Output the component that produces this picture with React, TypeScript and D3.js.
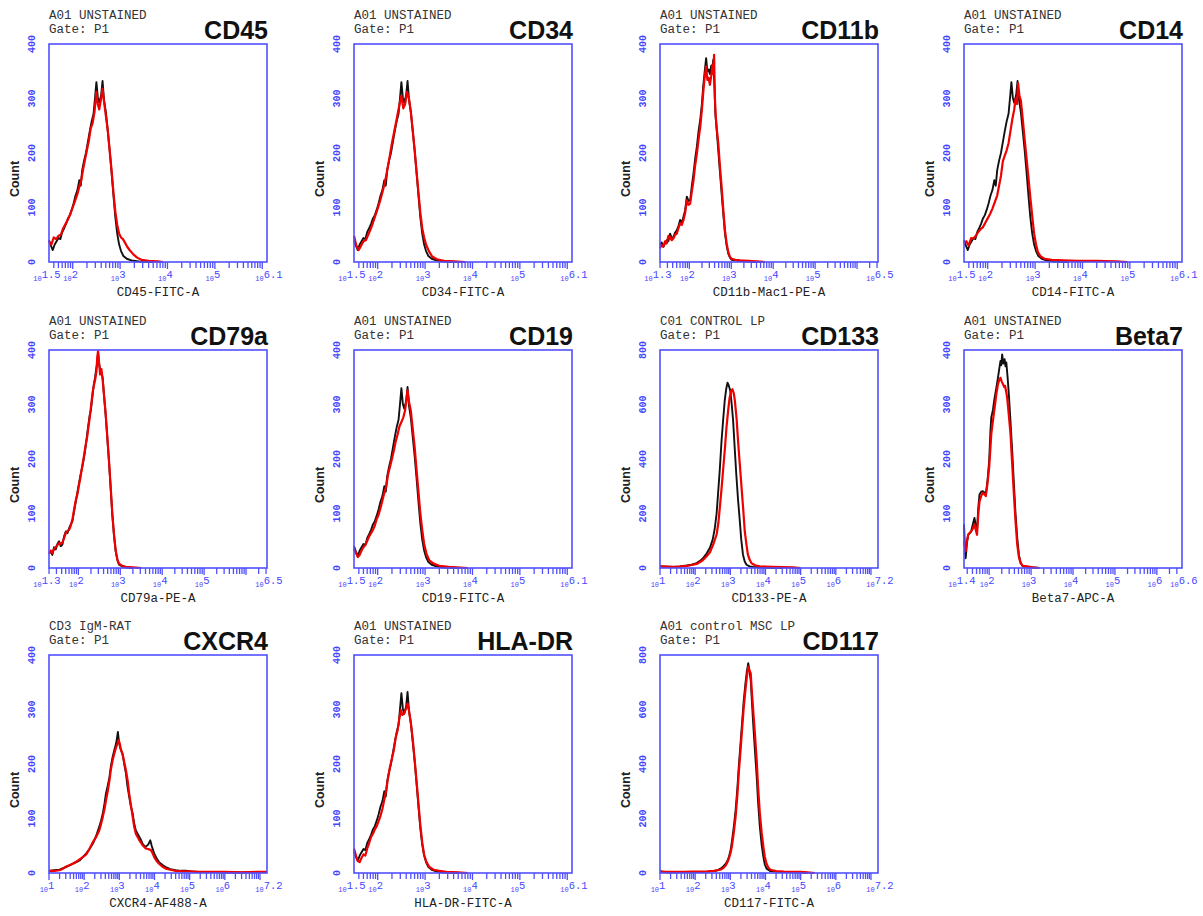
import React from 'react';
import * as d3 from 'd3';

type Pt = [number, number]; // [log10 fluorescence, count]

// ---------- data (log10 intensity, count) ----------
const FITC_CONTROL: Pt[] = [
  [1.50, 40], [1.54, 30], [1.58, 22], [1.62, 32], [1.66, 38], [1.70, 44], [1.74, 42], [1.78, 55], [1.82, 62],
  [1.86, 70], [1.90, 80], [1.94, 86], [1.98, 96], [2.02, 108], [2.06, 122], [2.10, 132], [2.14, 150], [2.17, 140],
  [2.20, 168], [2.24, 186], [2.28, 200], [2.32, 220], [2.36, 240], [2.40, 258], [2.44, 272], [2.47, 300], [2.50, 330],
  [2.53, 302], [2.56, 292], [2.60, 306], [2.63, 332], [2.66, 298], [2.70, 275], [2.74, 240], [2.78, 205], [2.82, 165],
  [2.86, 122], [2.90, 82], [2.94, 52], [2.98, 32], [3.02, 20], [3.07, 11], [3.14, 6], [3.24, 3], [3.40, 1], [3.70, 0],
];

const CD45_RED: Pt[] = [
  [1.50, 38], [1.55, 32], [1.60, 45], [1.65, 42], [1.70, 48], [1.75, 50], [1.80, 62], [1.85, 70], [1.90, 78],
  [1.95, 88], [2.00, 100], [2.05, 112], [2.10, 125], [2.15, 142], [2.18, 150], [2.22, 170], [2.26, 188], [2.30, 205],
  [2.34, 222], [2.38, 245], [2.42, 255], [2.46, 275], [2.50, 312], [2.53, 290], [2.56, 280], [2.60, 300], [2.63, 318],
  [2.66, 295], [2.70, 268], [2.74, 242], [2.78, 205], [2.82, 168], [2.86, 128], [2.90, 92], [2.94, 68], [2.98, 52],
  [3.02, 45], [3.06, 42], [3.10, 36], [3.15, 28], [3.20, 22], [3.28, 14], [3.36, 8], [3.45, 4], [3.60, 2], [3.80, 1], [3.90, 0],
];

const CD34_RED: Pt[] = [
  [1.50, 48], [1.55, 30], [1.60, 22], [1.65, 30], [1.70, 38], [1.75, 40], [1.80, 50], [1.85, 60], [1.90, 72],
  [1.95, 85], [2.00, 98], [2.05, 112], [2.10, 128], [2.15, 145], [2.20, 168], [2.25, 192], [2.30, 218], [2.35, 240],
  [2.40, 262], [2.45, 285], [2.50, 305], [2.54, 282], [2.58, 290], [2.62, 312], [2.66, 300], [2.70, 275], [2.74, 240],
  [2.78, 205], [2.82, 165], [2.86, 128], [2.90, 90], [2.94, 62], [2.98, 45], [3.02, 32], [3.08, 20], [3.15, 10],
  [3.25, 5], [3.40, 2], [3.60, 1], [3.85, 0],
];

const CD14_RED: Pt[] = [
  [1.50, 34], [1.55, 38], [1.60, 30], [1.65, 44], [1.70, 43], [1.75, 48], [1.80, 55], [1.85, 60], [1.90, 64],
  [1.95, 72], [2.00, 80], [2.05, 88], [2.10, 98], [2.15, 110], [2.20, 122], [2.24, 140], [2.28, 158], [2.32, 185],
  [2.36, 195], [2.40, 205], [2.44, 218], [2.48, 240], [2.52, 262], [2.56, 280], [2.59, 300], [2.62, 290], [2.64, 328],
  [2.67, 305], [2.70, 296], [2.74, 262], [2.78, 225], [2.82, 190], [2.86, 155], [2.90, 118], [2.94, 84], [2.98, 52],
  [3.02, 32], [3.06, 18], [3.12, 10], [3.20, 6], [3.35, 4], [3.60, 3], [3.90, 2], [4.30, 2], [4.70, 1], [4.95, 0],
];

const CD19_RED: Pt[] = [
  [1.50, 35], [1.54, 28], [1.58, 20], [1.62, 24], [1.66, 32], [1.70, 38], [1.74, 42], [1.78, 50], [1.82, 58],
  [1.86, 64], [1.90, 70], [1.94, 78], [1.98, 90], [2.02, 98], [2.06, 110], [2.10, 124], [2.14, 138], [2.18, 150],
  [2.22, 172], [2.26, 186], [2.30, 200], [2.34, 215], [2.38, 232], [2.42, 245], [2.46, 260], [2.50, 268], [2.54, 276],
  [2.58, 290], [2.61, 312], [2.63, 326], [2.66, 305], [2.70, 288], [2.74, 255], [2.78, 222], [2.82, 180], [2.86, 140],
  [2.90, 100], [2.94, 70], [2.98, 44], [3.03, 26], [3.09, 14], [3.18, 8], [3.30, 4], [3.50, 2], [3.90, 0],
];

const HLADR_RED: Pt[] = [
  [1.50, 45], [1.54, 32], [1.58, 22], [1.62, 20], [1.66, 28], [1.70, 34], [1.74, 32], [1.78, 45], [1.82, 55],
  [1.86, 66], [1.90, 72], [1.94, 80], [1.98, 86], [2.02, 95], [2.06, 105], [2.10, 118], [2.14, 135], [2.18, 152],
  [2.22, 175], [2.26, 195], [2.30, 210], [2.34, 225], [2.38, 248], [2.42, 262], [2.46, 285], [2.49, 299], [2.52, 290],
  [2.56, 293], [2.60, 302], [2.63, 311], [2.66, 298], [2.70, 275], [2.74, 245], [2.78, 208], [2.82, 168], [2.86, 128],
  [2.90, 88], [2.94, 56], [2.98, 33], [3.03, 20], [3.09, 11], [3.18, 6], [3.30, 4], [3.45, 2], [3.70, 1], [3.90, 0],
];

const CD11B_BLACK: Pt[] = [
  [1.30, 31], [1.34, 36], [1.38, 28], [1.42, 34], [1.46, 40], [1.50, 38], [1.54, 52], [1.58, 44], [1.62, 46],
  [1.66, 54], [1.70, 58], [1.74, 66], [1.78, 77], [1.82, 72], [1.86, 83], [1.90, 95], [1.94, 120], [1.98, 112],
  [2.02, 113], [2.06, 140], [2.10, 163], [2.14, 190], [2.18, 212], [2.22, 240], [2.26, 261], [2.30, 290], [2.33, 322],
  [2.36, 345], [2.40, 374], [2.43, 350], [2.46, 353], [2.49, 345], [2.52, 360], [2.55, 352], [2.57, 371], [2.60, 320],
  [2.62, 273], [2.66, 235], [2.69, 205], [2.73, 165], [2.77, 126], [2.81, 88], [2.85, 52], [2.89, 30], [2.93, 15],
  [2.97, 8], [3.01, 4], [3.10, 3], [3.21, 2], [3.40, 1], [3.60, 0],
];

const CD11B_RED: Pt[] = [
  [1.30, 25], [1.34, 32], [1.38, 28], [1.42, 38], [1.46, 34], [1.50, 48], [1.54, 46], [1.58, 40], [1.62, 43],
  [1.66, 50], [1.70, 52], [1.74, 62], [1.78, 71], [1.82, 68], [1.86, 77], [1.90, 90], [1.94, 113], [1.98, 105],
  [2.02, 107], [2.06, 130], [2.10, 150], [2.14, 178], [2.18, 199], [2.22, 225], [2.26, 248], [2.30, 280], [2.33, 310],
  [2.36, 335], [2.40, 359], [2.43, 334], [2.46, 338], [2.49, 325], [2.52, 340], [2.55, 362], [2.57, 345], [2.59, 380],
  [2.61, 300], [2.63, 267], [2.66, 240], [2.69, 218], [2.73, 175], [2.77, 138], [2.81, 96], [2.85, 58], [2.89, 34],
  [2.93, 18], [2.97, 9], [3.01, 6], [3.10, 4], [3.21, 3], [3.40, 2], [3.60, 1], [3.80, 0],
];

const CD79A_BLACK: Pt[] = [
  [1.30, 28], [1.34, 30], [1.38, 24], [1.42, 38], [1.46, 34], [1.50, 44], [1.54, 49], [1.58, 40], [1.62, 43],
  [1.66, 58], [1.70, 67], [1.74, 64], [1.78, 73], [1.82, 80], [1.86, 86], [1.90, 105], [1.94, 122], [1.98, 140],
  [2.01, 153], [2.05, 170], [2.09, 184], [2.13, 200], [2.17, 220], [2.21, 245], [2.24, 263], [2.27, 280], [2.30, 290],
  [2.34, 318], [2.37, 337], [2.40, 350], [2.43, 367], [2.45, 375], [2.47, 395], [2.50, 372], [2.53, 361], [2.56, 355],
  [2.58, 349], [2.61, 320], [2.65, 282], [2.69, 240], [2.73, 196], [2.77, 148], [2.81, 98], [2.85, 60], [2.89, 31],
  [2.93, 15], [2.97, 6], [3.05, 3], [3.13, 1], [3.30, 0],
];

const CD79A_RED: Pt[] = [
  [1.30, 26], [1.34, 32], [1.38, 27], [1.42, 35], [1.46, 38], [1.50, 42], [1.54, 46], [1.58, 44], [1.62, 47],
  [1.66, 55], [1.70, 64], [1.74, 68], [1.78, 70], [1.82, 78], [1.86, 90], [1.90, 108], [1.94, 125], [1.98, 136],
  [2.01, 150], [2.05, 166], [2.09, 186], [2.13, 204], [2.17, 224], [2.21, 240], [2.24, 258], [2.27, 275], [2.30, 295],
  [2.34, 322], [2.37, 335], [2.40, 345], [2.43, 360], [2.45, 385], [2.47, 398], [2.49, 380], [2.52, 355], [2.55, 365],
  [2.58, 345], [2.61, 318], [2.65, 285], [2.69, 242], [2.73, 198], [2.77, 150], [2.81, 100], [2.85, 62], [2.89, 33],
  [2.93, 16], [2.97, 8], [3.05, 4], [3.13, 2], [3.30, 1], [3.50, 0],
];

const CD133_BLACK: Pt[] = [
  [1.00, 6], [1.20, 5], [1.38, 4], [1.56, 6], [1.76, 9], [1.90, 12], [2.04, 18], [2.14, 26], [2.23, 37], [2.32, 52],
  [2.42, 74], [2.50, 105], [2.56, 147], [2.61, 200], [2.65, 270], [2.70, 360], [2.75, 466], [2.80, 550], [2.84, 613],
  [2.88, 655], [2.92, 680], [2.96, 668], [3.00, 650], [3.04, 600], [3.08, 540], [3.12, 450], [3.17, 343], [3.22, 250],
  [3.27, 172], [3.31, 105], [3.36, 49], [3.41, 24], [3.46, 12], [3.55, 6], [3.65, 4], [3.85, 2], [4.02, 1], [4.50, 0],
];

const CD133_RED: Pt[] = [
  [1.00, 6], [1.20, 5], [1.38, 4], [1.56, 5], [1.76, 8], [1.90, 11], [2.04, 15], [2.14, 22], [2.23, 30], [2.32, 42],
  [2.42, 58], [2.52, 88], [2.61, 123], [2.66, 165], [2.70, 220], [2.75, 290], [2.80, 368], [2.85, 445], [2.89, 515],
  [2.94, 580], [2.98, 625], [3.02, 648], [3.06, 656], [3.10, 640], [3.13, 613], [3.18, 545], [3.22, 466], [3.27, 380],
  [3.32, 294], [3.37, 210], [3.41, 135], [3.46, 85], [3.50, 49], [3.55, 30], [3.60, 18], [3.70, 10], [3.84, 6],
  [4.00, 5], [4.21, 4], [4.50, 3], [4.78, 2], [5.00, 0],
];

const BETA7_BLACK: Pt[] = [
  [1.40, 80], [1.42, 40], [1.44, 18], [1.47, 45], [1.50, 61], [1.54, 64], [1.57, 67], [1.61, 80], [1.65, 92],
  [1.68, 78], [1.71, 67], [1.74, 110], [1.77, 135], [1.81, 140], [1.85, 141], [1.89, 138], [1.92, 135], [1.96, 160],
  [2.00, 196], [2.03, 250], [2.05, 276], [2.09, 290], [2.13, 312], [2.17, 330], [2.21, 349], [2.24, 365], [2.27, 380],
  [2.29, 372], [2.31, 392], [2.34, 375], [2.37, 383], [2.39, 370], [2.41, 377], [2.44, 350], [2.47, 318], [2.51, 268],
  [2.55, 214], [2.59, 155], [2.63, 98], [2.67, 55], [2.71, 24], [2.75, 10], [2.80, 3], [2.90, 2], [3.04, 1], [3.20, 0],
];

const BETA7_RED: Pt[] = [
  [1.40, 49], [1.42, 38], [1.44, 31], [1.47, 50], [1.50, 61], [1.54, 65], [1.57, 67], [1.61, 72], [1.65, 80],
  [1.68, 70], [1.71, 61], [1.74, 98], [1.77, 122], [1.81, 132], [1.85, 138], [1.89, 135], [1.92, 132], [1.96, 155],
  [2.00, 184], [2.03, 220], [2.05, 245], [2.09, 270], [2.13, 294], [2.17, 318], [2.21, 337], [2.24, 345], [2.27, 349],
  [2.30, 342], [2.33, 337], [2.36, 332], [2.38, 334], [2.41, 322], [2.43, 312], [2.47, 280], [2.51, 245], [2.55, 190],
  [2.59, 135], [2.63, 85], [2.67, 43], [2.71, 20], [2.75, 9], [2.80, 4], [2.90, 3], [3.04, 1], [3.20, 0],
];

const CXCR4_BLACK: Pt[] = [
  [1.00, 4], [1.15, 5], [1.30, 6], [1.40, 9], [1.49, 11], [1.58, 14], [1.68, 17], [1.78, 20], [1.87, 23], [1.96, 29],
  [2.06, 36], [2.15, 44], [2.25, 54], [2.34, 68], [2.43, 85], [2.48, 96], [2.53, 109], [2.58, 128], [2.62, 146],
  [2.67, 160], [2.72, 176], [2.76, 196], [2.81, 213], [2.86, 226], [2.91, 238], [2.94, 250], [2.96, 259], [2.99, 240],
  [3.02, 231], [3.05, 225], [3.09, 219], [3.14, 200], [3.19, 182], [3.23, 160], [3.28, 140], [3.33, 122], [3.38, 109],
  [3.42, 92], [3.47, 78], [3.52, 72], [3.57, 66], [3.62, 60], [3.66, 54], [3.71, 50], [3.75, 48], [3.82, 52],
  [3.88, 60], [3.92, 50], [3.99, 36], [4.06, 27], [4.13, 20], [4.22, 15], [4.32, 11], [4.45, 7], [4.60, 5], [4.75, 4],
  [4.89, 4], [5.05, 3], [5.26, 2], [5.60, 2], [6.00, 1], [6.50, 1], [6.90, 2], [7.20, 2],
];

const CXCR4_RED: Pt[] = [
  [1.00, 4], [1.15, 4], [1.30, 5], [1.40, 8], [1.49, 12], [1.58, 14], [1.68, 17], [1.78, 21], [1.87, 25], [1.96, 29],
  [2.06, 34], [2.15, 44], [2.25, 57], [2.34, 66], [2.43, 78], [2.48, 90], [2.53, 103], [2.58, 118], [2.62, 133],
  [2.67, 150], [2.72, 170], [2.76, 190], [2.81, 207], [2.86, 220], [2.91, 231], [2.95, 238], [2.98, 244], [3.01, 238],
  [3.04, 228], [3.08, 220], [3.11, 213], [3.15, 200], [3.19, 188], [3.24, 168], [3.28, 146], [3.33, 124], [3.38, 103],
  [3.42, 86], [3.47, 72], [3.52, 66], [3.57, 60], [3.62, 55], [3.66, 51], [3.71, 48], [3.75, 45], [3.82, 44],
  [3.90, 42], [3.95, 36], [3.99, 29], [4.06, 22], [4.13, 17], [4.22, 12], [4.32, 8], [4.45, 6], [4.60, 4], [4.80, 3],
  [5.00, 3], [5.26, 2], [5.60, 2], [6.00, 2], [6.50, 1], [6.90, 2], [7.20, 2],
];

const CD117_BLACK: Pt[] = [
  [1.00, 7], [1.10, 4], [1.21, 2], [1.45, 3], [1.68, 4], [1.92, 4], [2.16, 4], [2.35, 5], [2.53, 7], [2.63, 10],
  [2.72, 16], [2.80, 24], [2.87, 34], [2.92, 45], [2.96, 59], [3.01, 85], [3.05, 120], [3.10, 170], [3.15, 230],
  [3.20, 310], [3.24, 390], [3.29, 475], [3.34, 561], [3.38, 630], [3.43, 696], [3.47, 740], [3.51, 770], [3.54, 745],
  [3.58, 708], [3.61, 640], [3.65, 549], [3.70, 450], [3.75, 353], [3.79, 260], [3.84, 169], [3.89, 105], [3.94, 59],
  [3.98, 32], [4.03, 16], [4.14, 7], [4.30, 5], [4.52, 4], [4.75, 3], [5.00, 2], [5.20, 0],
];

const CD117_RED: Pt[] = [
  [1.00, 5], [1.21, 4], [1.45, 4], [1.68, 4], [1.92, 5], [2.16, 5], [2.35, 6], [2.53, 8], [2.72, 12], [2.80, 18],
  [2.87, 28], [2.92, 40], [2.96, 53], [3.01, 75], [3.05, 102], [3.10, 150], [3.15, 206], [3.20, 285], [3.24, 365],
  [3.29, 450], [3.34, 537], [3.38, 605], [3.43, 672], [3.47, 720], [3.51, 757], [3.54, 745], [3.58, 733], [3.61, 670],
  [3.65, 598], [3.70, 510], [3.75, 414], [3.79, 315], [3.84, 218], [3.89, 150], [3.94, 96], [3.98, 60], [4.03, 34],
  [4.08, 20], [4.14, 12], [4.30, 7], [4.52, 5], [4.75, 4], [5.00, 4], [5.20, 2], [5.40, 0],
];

// ---------- panel descriptors ----------
const TITLES = ['CD45', 'CD34', 'CD11b', 'CD14', 'CD79a', 'CD19', 'CD133', 'Beta7', 'CXCR4', 'HLA-DR', 'CD117'];
const HEADERS = [
  'A01 UNSTAINED', 'A01 UNSTAINED', 'A01 UNSTAINED', 'A01 UNSTAINED',
  'A01 UNSTAINED', 'A01 UNSTAINED', 'C01 CONTROL LP', 'A01 UNSTAINED',
  'CD3 IgM-RAT', 'A01 UNSTAINED', 'A01 control MSC LP',
];
const X_LABELS = [
  'CD45-FITC-A', 'CD34-FITC-A', 'CD11b-Mac1-PE-A', 'CD14-FITC-A',
  'CD79a-PE-A', 'CD19-FITC-A', 'CD133-PE-A', 'Beta7-APC-A',
  'CXCR4-AF488-A', 'HLA-DR-FITC-A', 'CD117-FITC-A',
];
const X_DOMAINS: [number, number][] = [
  [1.5, 6.1], [1.5, 6.1], [1.3, 6.5], [1.5, 6.1],
  [1.3, 6.5], [1.5, 6.1], [1, 7.2], [1.4, 6.6],
  [1, 7.2], [1.5, 6.1], [1, 7.2],
];
const X_TICK_EXPS: number[][] = [
  [1.5, 2, 3, 4, 5, 6.1], [1.5, 2, 3, 4, 5, 6.1], [1.3, 2, 3, 4, 5, 6.5], [1.5, 2, 3, 4, 5, 6.1],
  [1.3, 2, 3, 4, 5, 6.5], [1.5, 2, 3, 4, 5, 6.1], [1, 2, 3, 4, 5, 6, 7.2], [1.4, 2, 3, 4, 5, 6, 6.6],
  [1, 2, 3, 4, 5, 6, 7.2], [1.5, 2, 3, 4, 5, 6.1], [1, 2, 3, 4, 5, 6, 7.2],
];
const Y_TICKS_400 = [0, 100, 200, 300, 400];
const Y_TICKS_800 = [0, 200, 400, 600, 800];
const Y_TICKS = [
  Y_TICKS_400, Y_TICKS_400, Y_TICKS_400, Y_TICKS_400,
  Y_TICKS_400, Y_TICKS_400, Y_TICKS_800, Y_TICKS_400,
  Y_TICKS_400, Y_TICKS_400, Y_TICKS_800,
];
const BLACK_SERIES = [
  FITC_CONTROL, FITC_CONTROL, CD11B_BLACK, FITC_CONTROL,
  CD79A_BLACK, FITC_CONTROL, CD133_BLACK, BETA7_BLACK,
  CXCR4_BLACK, FITC_CONTROL, CD117_BLACK,
];
const RED_SERIES = [
  CD45_RED, CD34_RED, CD11B_RED, CD14_RED,
  CD79A_RED, CD19_RED, CD133_RED, BETA7_RED,
  CXCR4_RED, HLADR_RED, CD117_RED,
];

// ---------- layout ----------
const COL_X = [49, 354, 660, 964];
const ROW_Y = [44, 350, 655];
const PW = 218;
const PH = 218;
const BLUE = '#5050ff';
const LABEL_BLUE = '#4646ff';
const MONO = '"Liberation Mono", "DejaVu Sans Mono", monospace';
const SANS = '"Liberation Sans", Arial, sans-serif';

function fmtExp(e: number) {
  return String(e);
}

function Panel({ i }: { i: number }) {
  const x0 = COL_X[i % 4];
  const y0 = ROW_Y[Math.floor(i / 4)];
  const [lo, hi] = X_DOMAINS[i];
  const yTicks = Y_TICKS[i];
  const yMax = yTicks[yTicks.length - 1];
  const x = d3.scaleLog().domain([Math.pow(10, lo), Math.pow(10, hi)]).range([0, PW]);
  const y = d3.scaleLinear().domain([0, yMax]).range([PH, 0]);
  const line = d3
    .line<Pt>()
    .x((d) => x(Math.pow(10, d[0])))
    .y((d) => y(d[1]));

  const ticks: { v: number; major: boolean }[] = [];
  for (let dec = Math.floor(lo); dec <= Math.ceil(hi); dec++) {
    for (let m = 1; m <= 9; m++) {
      const v = m * Math.pow(10, dec);
      const e = Math.log10(v);
      if (e >= lo - 1e-9 && e <= hi + 1e-9) ticks.push({ v, major: m === 1 });
    }
  }
  const exps = X_TICK_EXPS[i];
  const clipId = `clip-${i}`;

  return (
    <g transform={`translate(${x0},${y0})`}>
      <defs>
        <clipPath id={clipId}>
          <rect x={-1} y={-3} width={PW + 2} height={PH + 4} />
        </clipPath>
      </defs>
      {/* header */}
      <text x={0} y={-25} fontFamily={MONO} fontSize={12.5} fill="#333">{HEADERS[i]}</text>
      <text x={0} y={-11} fontFamily={MONO} fontSize={12.5} fill="#333">Gate: P1</text>
      <text x={PW + 1} y={-5} fontFamily={SANS} fontWeight="bold" fontSize={25} textAnchor="end" fill="#111">
        {TITLES[i]}
      </text>

      {/* lines */}
      <g clipPath={`url(#${clipId})`}>
        <path d={line(BLACK_SERIES[i]) || ''} fill="none" stroke="#111" strokeWidth={1.9} strokeLinejoin="round" />
        <path d={line(RED_SERIES[i]) || ''} fill="none" stroke="#f00000" strokeWidth={2.2} strokeLinejoin="round" />
      </g>

      {/* frame */}
      <rect x={0} y={0} width={PW} height={PH} fill="none" stroke={BLUE} strokeWidth={1.6} />

      {/* x ticks */}
      {ticks.map((t, k) => (
        <line key={k} x1={x(t.v)} x2={x(t.v)} y1={PH} y2={PH + (t.major ? 7 : 6)} stroke={BLUE} strokeWidth={1.3} />
      ))}
      {exps.map((e, k) => {
        const tx = x(Math.pow(10, e)) + (k === exps.length - 1 ? 2 : -2);
        return (
          <text key={k} x={tx} y={PH + 19} textAnchor="middle" fill={LABEL_BLUE} fontFamily={MONO}>
            <tspan fontSize={7}>10</tspan>
            <tspan fontSize={10.5} dy={-3}>{fmtExp(e)}</tspan>
          </text>
        );
      })}

      {/* y tick labels */}
      {yTicks.map((v, k) => (
        <text
          key={k}
          transform={`translate(-17,${y(v)}) rotate(-90)`}
          textAnchor="middle"
          dominantBaseline="central"
          fontFamily={MONO}
          fontWeight="bold"
          fontSize={10}
          fill={LABEL_BLUE}
        >
          {v}
        </text>
      ))}

      {/* axis titles */}
      <text
        transform={`translate(-34,${135}) rotate(-90)`}
        textAnchor="middle"
        dominantBaseline="central"
        fontFamily={SANS}
        fontWeight="bold"
        fontSize={12.5}
        fill="#222"
      >
        Count
      </text>
      <text x={PW / 2} y={PH + 34} textAnchor="middle" fontFamily={MONO} fontSize={12.5} fill="#222">
        {X_LABELS[i]}
      </text>
    </g>
  );
}

export default function App() {
  return (
    <svg
      width={1203}
      height={916}
      viewBox="0 0 1203 916"
      style={{ position: 'absolute', left: 0, top: 0, background: '#fff' }}
    >
      <rect x={0} y={0} width={1203} height={916} fill="#fff" />
      {TITLES.map((_, i) => (
        <Panel key={i} i={i} />
      ))}
    </svg>
  );
}
